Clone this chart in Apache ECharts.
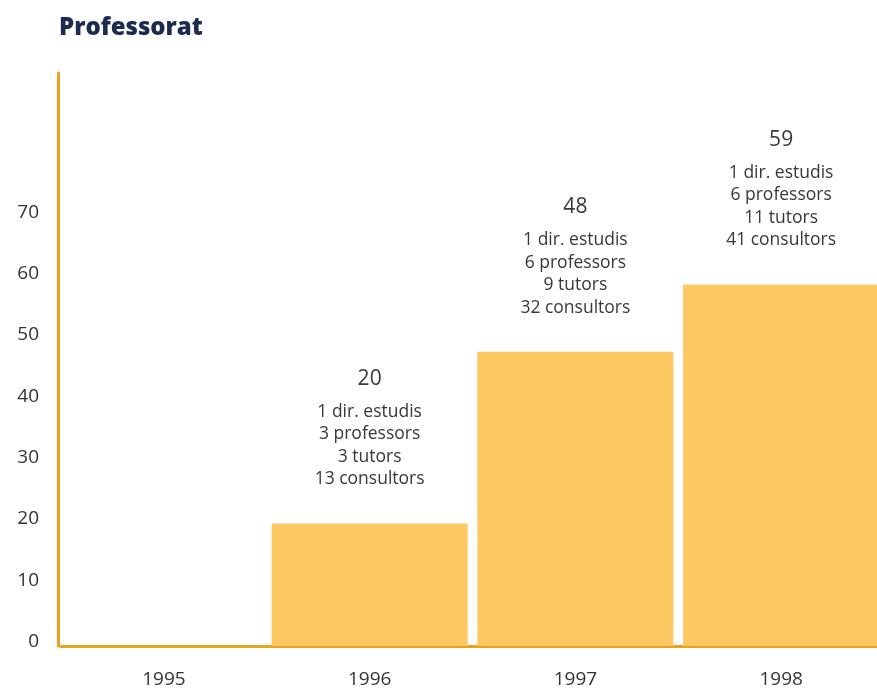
<!DOCTYPE html>
<html><head><meta charset="utf-8">
<script src="https://cdn.jsdelivr.net/npm/echarts@6/dist/echarts.min.js"></script>
<style>html,body{margin:0;padding:0;background:#fff}#c{width:877px;height:689px}</style>
</head><body><div id="c"></div>
<script>
var years = ['1995', '1996', '1997', '1998'];
var totals = [0, 20, 48, 59];
var dirEstudis = [0, 1, 1, 1];
var professors = [0, 3, 6, 6];
var tutors = [0, 3, 9, 11];
var consultors = [0, 13, 32, 41];
var yTicks = [0, 10, 20, 30, 40, 50, 60, 70];

var chart = echarts.init(document.getElementById('c'));
var data = totals.map(function (v, i) {
  return {
    value: v,
    label: {
      show: v > 0,
      formatter: '{v|' + v + '}\n{l|' + dirEstudis[i] + ' dir. estudis}\n{l|' + professors[i] + ' professors}\n{l|' + tutors[i] + ' tutors}\n{l|' + consultors[i] + ' consultors}'
    }
  };
});
chart.setOption({
  backgroundColor: '#ffffff',
  title: {
    text: 'Professorat', left: 54, top: 11,
    textStyle: { fontFamily: 'Open Sans', fontWeight: 800, fontSize: 24, color: '#1c2b50' }
  },
  grid: { left: 61, width: 823, top: 73, height: 573, outerBoundsMode: 'none', containLabel: false },
  xAxis: {
    type: 'category', data: years,
    axisLine: { lineStyle: { color: '#eca21f', width: 3 } },
    axisTick: { show: false },
    axisLabel: { color: '#333', fontFamily: 'Open Sans', fontSize: 19, margin: 24 }
  },
  yAxis: {
    type: 'value', min: 0, max: 93.5, interval: 10, offset: 3,
    splitLine: { show: false },
    axisLine: { show: true, lineStyle: { color: '#eca21f', width: 3 } },
    axisTick: { show: false },
    axisLabel: {
      color: '#333', fontFamily: 'Open Sans', fontSize: 19, margin: 19,
      verticalAlign: 'bottom', lineHeight: 9,
      formatter: function (v) { return yTicks.indexOf(v) >= 0 ? String(v) : ''; }
    }
  },
  series: [{
    type: 'bar', data: data, barCategoryGap: '4.7%',
    itemStyle: { color: '#fcc962' },
    label: {
      position: 'top', distance: 33, align: 'center',
      fontFamily: 'Open Sans', color: '#383838',
      rich: {
        v: { fontSize: 21, lineHeight: 43, color: '#383838', fontFamily: 'Open Sans' },
        l: { fontSize: 17.5, lineHeight: 22.5, color: '#383838', fontFamily: 'Open Sans' }
      }
    }
  }],
  animation: false
});
</script></body></html>
